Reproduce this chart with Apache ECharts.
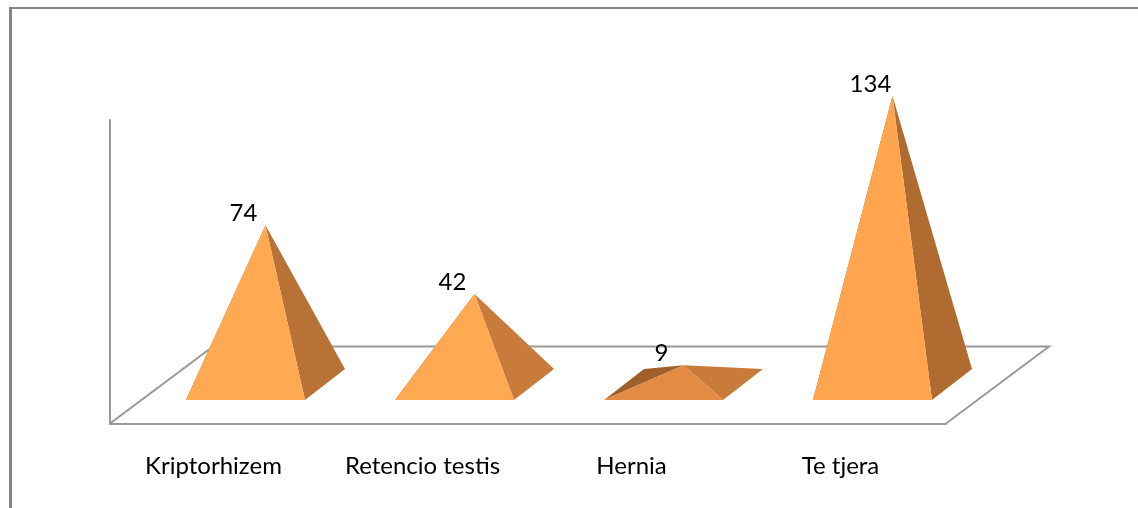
<!DOCTYPE html>
<html>
<head>
<meta charset="utf-8">
<style>
  html, body { margin: 0; padding: 0; background: #fff; }
  #chart { width: 1138px; height: 508px; }
</style>
</head>
<body>
<div id="chart"></div>
<script src="https://cdn.jsdelivr.net/npm/echarts@6/dist/echarts.min.js"></script>
<script>
const categories = ['Kriptorhizem', 'Retencio testis', 'Hernia', 'Te tjera']
const values = [74, 42, 9, 134]

// Face shades depend on slope in the original, so each pyramid has its own.
const frontColors = ['#ffa953', '#ffa953', '#e38b44', '#ffa54f']
const rightColors = ['#b87235', '#c87b3a', '#c87b3a', '#b06c30']
const leftColor = '#a0602b'
const lineColor = '#999999'
const fontFamily = 'Lato, "Open Sans", sans-serif'

// The floor is a sheared plane: the depth vector goes from its front edge to its back edge.
const depth = [103, -77]
// Base centre relative to the category position on the front edge.
const baseShift = [51, -39]
// Base corners relative to the base centre: front-left, front-right, back-right, back-left.
const corners = { fl: [-79.5, 15.5], fr: [39.5, 15.5], br: [79.5, -15.5], bl: [-39.5, -15.5] }

function renderFloor(params) {
  const { x, y, width, height } = params.coordSys
  const bottom = y + height
  return {
    type: 'polyline',
    shape: {
      points: [
        [x, bottom],
        [x + depth[0], bottom + depth[1]],
        [x + width + depth[0], bottom + depth[1]],
        [x + width, bottom],
      ],
    },
    style: { stroke: lineColor, fill: null, lineWidth: 2 },
    silent: true,
  }
}

function renderPyramid(params, api) {
  const i = api.value(0)
  const foot = api.coord([i, 0])
  const top = api.coord([i, api.value(1)])
  const cx = foot[0] + baseShift[0]
  const cy = foot[1] + baseShift[1]
  const at = (c) => [cx + c[0], cy + c[1]]
  const apex = [cx, top[1] + baseShift[1]]
  const face = (a, b, color) => ({
    type: 'polygon',
    shape: { points: [at(a), at(b), apex] },
    style: { fill: color },
  })
  return {
    type: 'group',
    children: [
      face(corners.bl, corners.fl, leftColor),
      face(corners.fr, corners.br, rightColors[i]),
      face(corners.fl, corners.fr, frontColors[i]),
      {
        type: 'text',
        style: {
          x: apex[0] - 22,
          y: apex[1] - 12,
          text: String(api.value(1)),
          fill: '#000',
          font: '24px ' + fontFamily,
          align: 'center',
          verticalAlign: 'middle',
        },
      },
    ],
  }
}

const chart = echarts.init(document.getElementById('chart'))
chart.setOption({
  animation: false,
  backgroundColor: '#fff',
  grid: { left: 110, top: 120, width: 836, height: 303.5 },
  xAxis: {
    type: 'category',
    data: categories,
    axisLine: { lineStyle: { color: lineColor, width: 2 } },
    axisTick: { show: false },
    axisLabel: { color: '#000', fontFamily, fontSize: 24, margin: 31, padding: [0, 2, 0, 0] },
  },
  yAxis: {
    type: 'value',
    min: 0,
    max: 141,
    axisLine: { show: true, lineStyle: { color: lineColor, width: 2 } },
    axisTick: { show: false },
    axisLabel: { show: false },
    splitLine: { show: false },
  },
  // Outer frame of the pasted picture: only its top and left edges show.
  graphic: [
    { type: 'rect', shape: { x: 9, y: 7, width: 1129, height: 2 }, style: { fill: '#858585' } },
    { type: 'rect', shape: { x: 9, y: 7, width: 3, height: 501 }, style: { fill: '#858585' } },
  ],
  series: [
    { type: 'custom', name: 'floor', data: [0], renderItem: renderFloor, silent: true, z: 1 },
    {
      type: 'custom',
      name: 'values',
      data: values.map((v, i) => [i, v]),
      encode: { x: 0, y: 1 },
      renderItem: renderPyramid,
      z: 2,
    },
  ],
})
</script>
</body>
</html>
